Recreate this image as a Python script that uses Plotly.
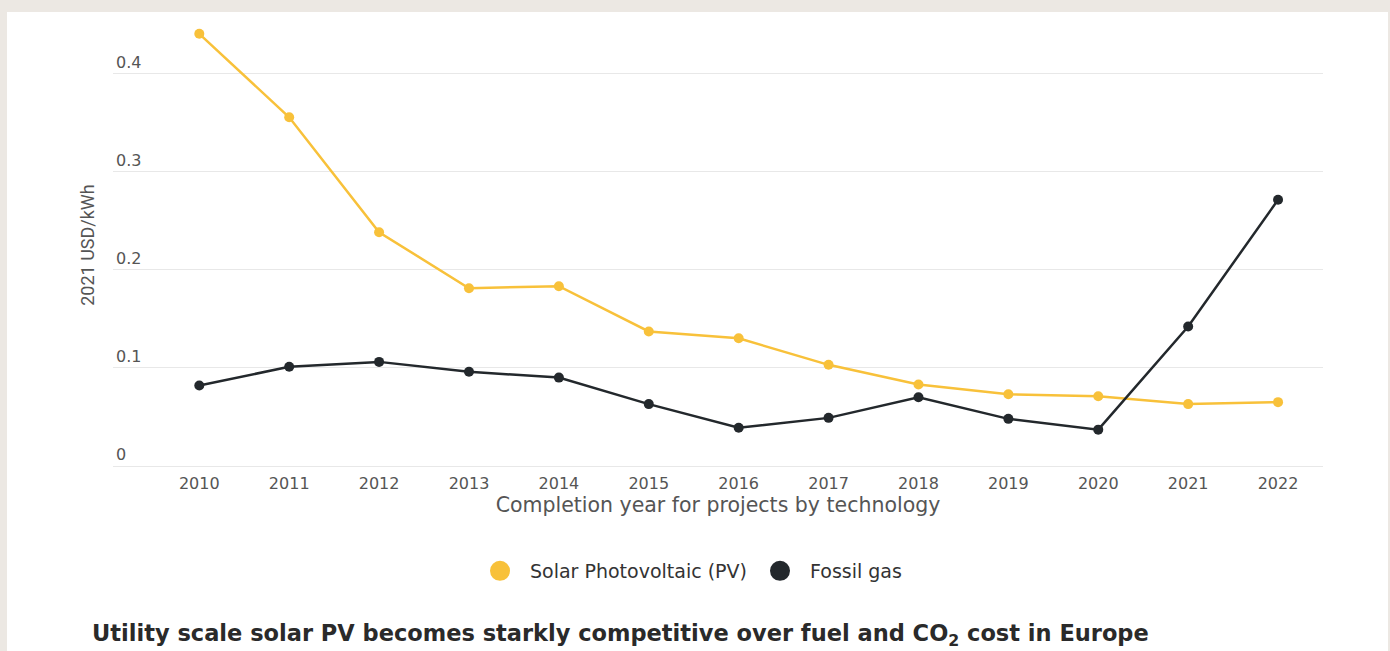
import plotly.graph_objects as go

# Levelised cost of electricity, Europe (2021 USD/kWh)
years = [2010, 2011, 2012, 2013, 2014, 2015, 2016, 2017, 2018, 2019, 2020, 2021, 2022]
solar_pv = [0.440, 0.355, 0.238, 0.181, 0.183, 0.137, 0.130, 0.103, 0.083, 0.073, 0.071, 0.063, 0.065]
fossil_gas = [0.082, 0.101, 0.106, 0.096, 0.090, 0.063, 0.039, 0.049, 0.070, 0.048, 0.037, 0.142, 0.271]

y_ticks = [0, 0.1, 0.2, 0.3, 0.4]
y_tick_text = ["0", "0.1", "0.2", "0.3", "0.4"]

SOLAR = "#F8C13A"
GAS = "#23282C"
BEIGE = "#ECE8E3"

W, H = 1390, 651
L, R, T, B = 113, 67, 24, 185
pw, ph = W - L - R, H - T - B


def px(x):
    return (x - L) / pw


def py(y):
    return (H - B - y) / ph


fig = go.Figure()

for name, vals, col in [("Solar Photovoltaic (PV)", solar_pv, SOLAR),
                        ("Fossil gas", fossil_gas, GAS)]:
    fig.add_trace(go.Scatter(
        x=years, y=vals, mode="lines+markers", name=name,
        line=dict(color=col, width=2.5),
        marker=dict(color=col, size=10),
        showlegend=False, hoverinfo="x+y+name",
    ))
    # legend entry drawn as a plain dot
    fig.add_trace(go.Scatter(
        x=[None], y=[None], mode="markers", name=name,
        marker=dict(color=col, size=16, line=dict(color=col, width=4)),
        showlegend=True,
    ))

fig.update_layout(
    width=W, height=H,
    margin=dict(l=L, r=R, t=T, b=B),
    paper_bgcolor=BEIGE,
    plot_bgcolor="rgba(0,0,0,0)",
    font=dict(family="DejaVu Sans", color="#555555"),
    showlegend=True,
    legend=dict(
        orientation="h", x=px(470), y=py(571), xanchor="left", yanchor="middle",
        font=dict(family="DejaVu Sans", size=19, color="#333333"),
        bgcolor="rgba(0,0,0,0)", itemwidth=50, entrywidth=215,
    ),
    xaxis=dict(
        range=[2009.04, 2022.5],
        tickmode="array", tickvals=years, ticktext=[str(y) for y in years],
        showgrid=False, zeroline=False, showline=False, ticks="",
        ticklabelstandoff=6,
        tickfont=dict(family="DejaVu Sans", size=16, color="#555555"),
        title=dict(text="Completion year for projects by technology",
                   font=dict(family="DejaVu Sans", size=20.5, color="#555555"),
                   standoff=5),
    ),
    yaxis=dict(
        range=[0, 0.45],
        tickmode="array", tickvals=y_ticks, ticktext=y_tick_text,
        ticklabelposition="inside top",
        showgrid=True, gridcolor="#E8E8E8", gridwidth=1,
        zeroline=True, zerolinecolor="#E8E8E8", zerolinewidth=1,
        showline=False, ticks="",
        tickfont=dict(family="DejaVu Sans", size=16, color="#555555"),
        title=dict(text="2021 USD/kWh",
                   font=dict(family="Liberation Sans Narrow, Roboto", size=18, color="#555555"),
                   standoff=16),
    ),
    shapes=[dict(
        type="rect", xref="paper", yref="paper", layer="below",
        x0=px(7), x1=px(1388), y0=py(700), y1=py(12),
        fillcolor="white", line=dict(width=0),
    )],
    annotations=[dict(
        xref="paper", yref="paper", x=px(90), y=py(635),
        xanchor="left", yanchor="middle", showarrow=False,
        text="Utility scale solar PV becomes starkly competitive over fuel and CO<sub>2</sub> cost in Europe",
        font=dict(family="DejaVu Sans", size=22.5, color="#2A2A2A", weight="bold"),
    )],
)

fig.write_html("out.html")
